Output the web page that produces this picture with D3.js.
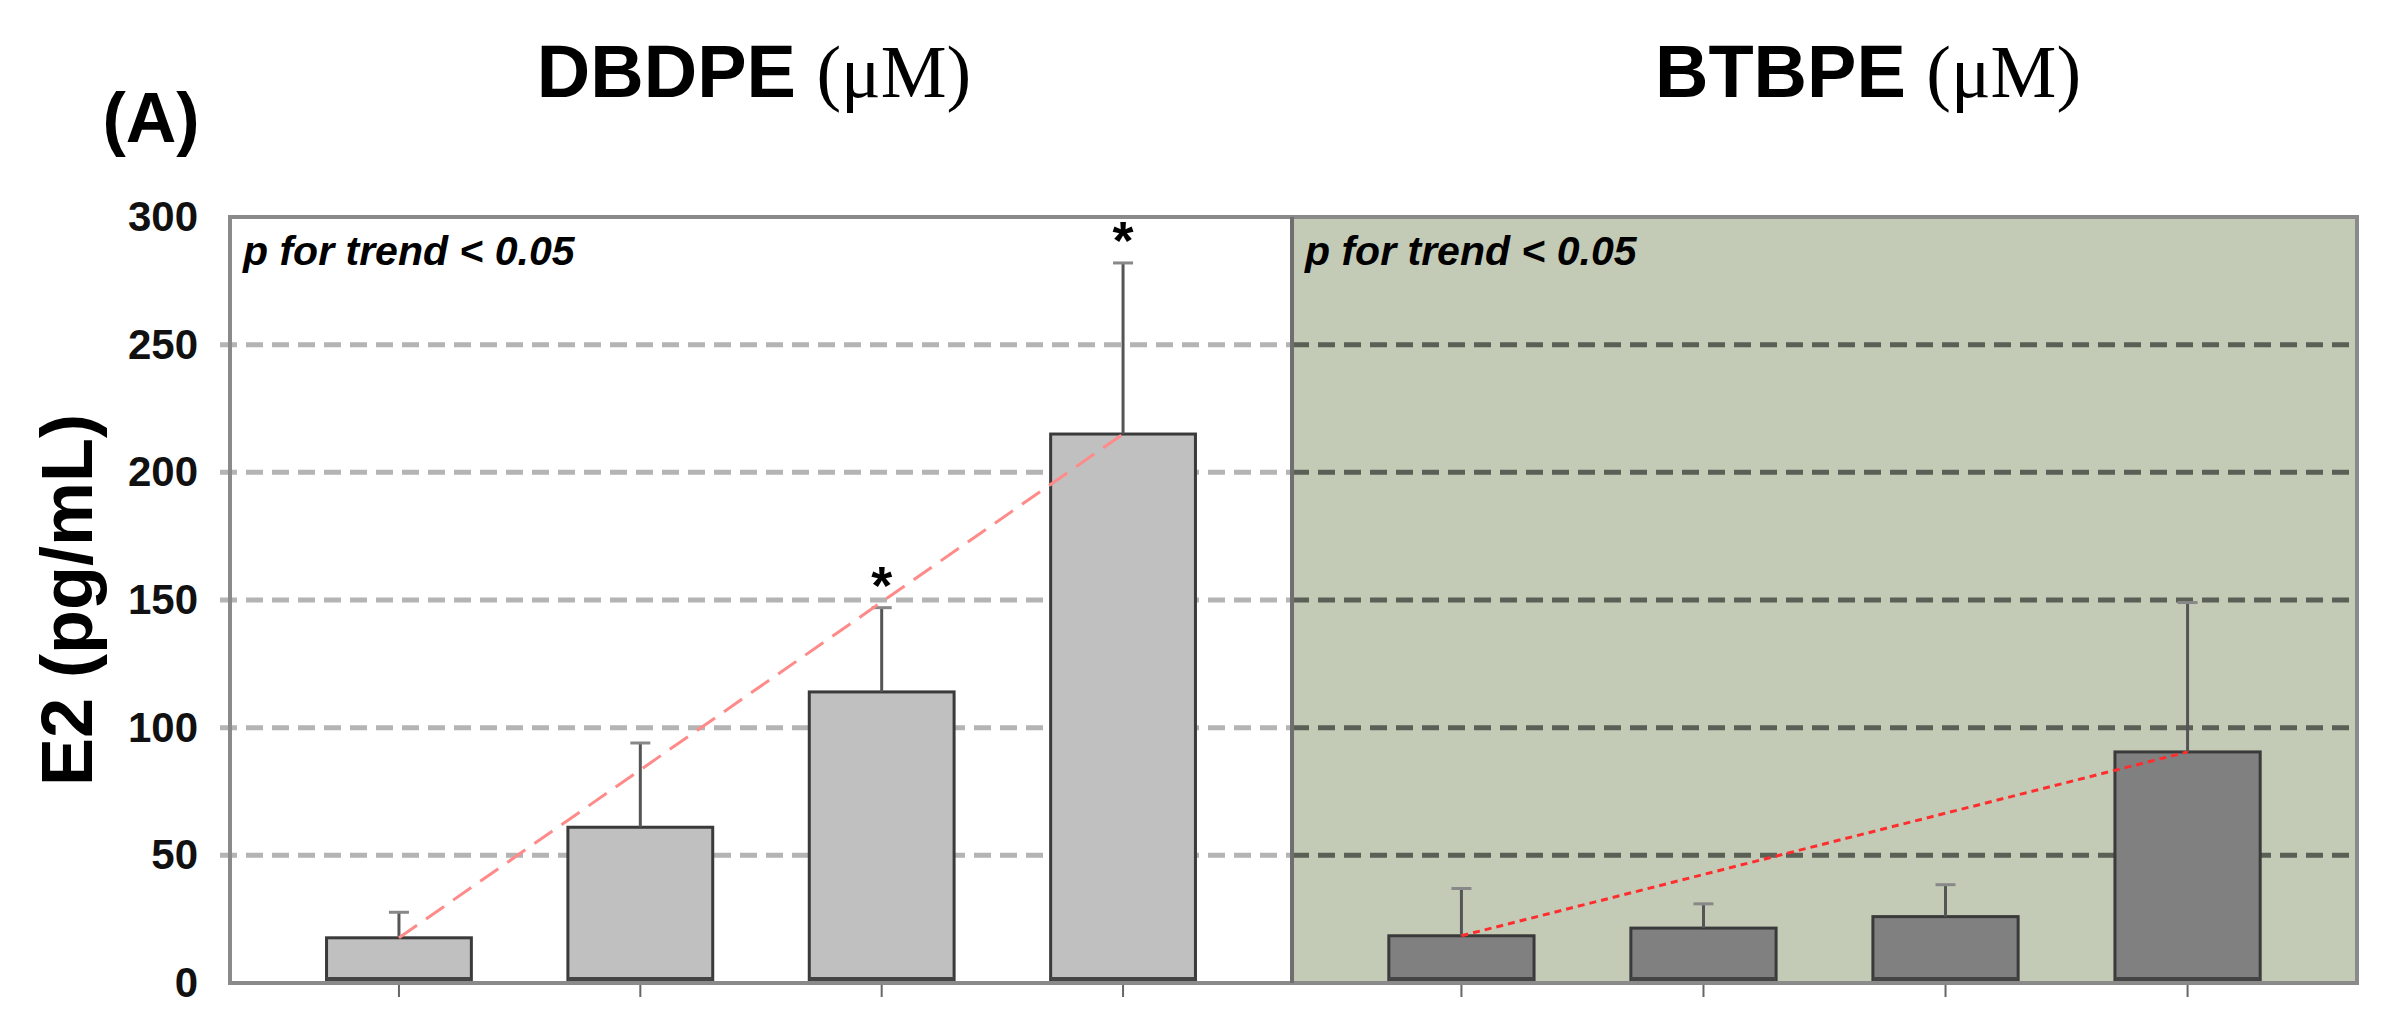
<!DOCTYPE html>
<html>
<head>
<meta charset="utf-8">
<script src="https://cdn.jsdelivr.net/npm/d3@7"></script>
<style>
  body { margin: 0; background: #fff; }
  text { font-family: "Liberation Sans", Arial, sans-serif; }
</style>
</head>
<body>
<svg id="chart"></svg>
<script>
// Constants
const width = 2395;
const height = 1032;
const plot = { left: 230, mid: 1292, right: 2357, top: 217, bottom: 983 };

// Data (E2, pg/mL, mean and SD per dose level)
const doseLevels = ["d1", "d2", "d3", "d4"];
const dbdpeMeans = [17.7, 61, 114, 215];
const dbdpeSD = [10, 33, 33, 67];
const btbpeMeans = [18.5, 21.5, 26, 90.5];
const btbpeSD = [18.5, 9.5, 12.5, 58.5];
const dbdpeStars = ["", "", "*", "*"];
const btbpeStars = ["", "", "", ""];
const yTicks = [0, 50, 100, 150, 200, 250, 300];
const gridTicks = [50, 100, 150, 200, 250];
const panelNames = ["DBDPE", "BTBPE"];
const trendNote = "p for trend < 0.05";

const svg = d3.select("#chart").attr("width", width).attr("height", height);

// y scale shared by both panels
const yScale = d3.scaleLinear().domain([0, 300]).range([plot.bottom, plot.top]);

// panel settings built from the arrays above
const panels = [
    { name: panelNames[0], means: dbdpeMeans, sd: dbdpeSD, stars: dbdpeStars,
      x0: plot.left, x1: plot.mid, bg: "#ffffff", barFill: "#c0c0c0",
      grid: "#b4b4b4", trend: "#ff8a8a", trendDash: "22,11", titleX: 754 },
    { name: panelNames[1], means: btbpeMeans, sd: btbpeSD, stars: btbpeStars,
      x0: plot.mid, x1: plot.right, bg: "#c3cbb7", barFill: "#808080",
      grid: "#5a6055", trend: "#ff2e2e", trendDash: "7,5", titleX: 1868 }
];

panels.forEach(p => {
    const xScale = d3.scaleBand()
        .domain(doseLevels)
        .range([p.x0, p.x1])
        .paddingInner(0.4)
        .paddingOuter(0.4);
    const rows = doseLevels.map((d, i) => ({ key: d, mean: p.means[i], sd: p.sd[i], star: p.stars[i] }));
    const g = svg.append("g");

    // background
    g.append("rect")
        .attr("x", p.x0).attr("y", plot.top)
        .attr("width", p.x1 - p.x0).attr("height", plot.bottom - plot.top)
        .attr("fill", p.bg);

    // dashed gridlines (they also reach out as ticks on the left)
    g.selectAll(".grid").data(gridTicks).enter().append("line")
        .attr("x1", p.x0 === plot.left ? plot.left - 10 : p.x0)
        .attr("x2", p.x1)
        .attr("y1", d => yScale(d)).attr("y2", d => yScale(d))
        .attr("stroke", p.grid).attr("stroke-width", 5)
        .attr("stroke-dasharray", "17,9");

    // bars
    g.selectAll(".bar").data(rows).enter().append("rect")
        .attr("x", d => xScale(d.key))
        .attr("y", d => yScale(d.mean))
        .attr("width", xScale.bandwidth())
        .attr("height", d => yScale(0) - yScale(d.mean))
        .attr("fill", p.barFill)
        .attr("stroke", "#3a3a3a").attr("stroke-width", 3);

    // dark base strip of each bar
    g.selectAll(".base").data(rows).enter().append("rect")
        .attr("x", d => xScale(d.key))
        .attr("y", yScale(0) - 6)
        .attr("width", xScale.bandwidth())
        .attr("height", 6)
        .attr("fill", "#444");

    // error bars (upper half only)
    const cx = d => xScale(d.key) + xScale.bandwidth() / 2;
    g.selectAll(".err").data(rows).enter().append("line")
        .attr("x1", cx).attr("x2", cx)
        .attr("y1", d => yScale(d.mean)).attr("y2", d => yScale(d.mean + d.sd))
        .attr("stroke", "#555").attr("stroke-width", 3);
    g.selectAll(".cap").data(rows).enter().append("line")
        .attr("x1", d => cx(d) - 10).attr("x2", d => cx(d) + 10)
        .attr("y1", d => yScale(d.mean + d.sd)).attr("y2", d => yScale(d.mean + d.sd))
        .attr("stroke", "#888").attr("stroke-width", 3);

    // trend line from first to last bar top
    const first = rows[0], last = rows[rows.length - 1];
    g.append("line")
        .attr("x1", cx(first)).attr("y1", yScale(first.mean))
        .attr("x2", cx(last)).attr("y2", yScale(last.mean))
        .attr("stroke", p.trend).attr("stroke-width", 3)
        .attr("stroke-dasharray", p.trendDash);

    // significance stars
    g.selectAll(".star").data(rows.filter(d => d.star)).enter().append("text")
        .attr("x", cx)
        .attr("y", d => yScale(d.mean + d.sd) - 4)
        .attr("text-anchor", "middle")
        .attr("font-size", 54).attr("font-weight", "bold")
        .text(d => d.star);

    // x ticks (no labels)
    g.append("g")
        .attr("transform", `translate(0,${plot.bottom})`)
        .call(d3.axisBottom(xScale).tickSize(14).tickFormat(""))
        .call(a => a.select(".domain").remove())
        .call(a => a.selectAll("line").attr("stroke", "#666").attr("stroke-width", 2));

    // p for trend note
    g.append("text")
        .attr("x", p.x0 + 13).attr("y", plot.top + 48)
        .attr("font-size", 41).attr("font-weight", "bold").attr("font-style", "italic")
        .text(trendNote);

    // panel title
    const t = svg.append("text")
        .attr("x", p.titleX).attr("y", 97)
        .attr("text-anchor", "middle")
        .attr("font-size", 74).attr("font-weight", "bold");
    t.append("tspan").text(p.name + " ");
    t.append("tspan").attr("font-family", "'Liberation Serif', 'Times New Roman', serif")
        .attr("font-weight", "normal").text("(\u03bcM)");
});

// frame of the plot area and divider
svg.append("rect")
    .attr("x", plot.left).attr("y", plot.top)
    .attr("width", plot.right - plot.left).attr("height", plot.bottom - plot.top)
    .attr("fill", "none").attr("stroke", "#8a8a8a").attr("stroke-width", 4);
svg.append("line")
    .attr("x1", plot.mid).attr("x2", plot.mid)
    .attr("y1", plot.top).attr("y2", plot.bottom)
    .attr("stroke", "#6f6f6f").attr("stroke-width", 4);

// y axis labels
svg.append("g")
    .attr("transform", `translate(${plot.left - 30},0)`)
    .call(d3.axisLeft(yScale).tickValues(yTicks).tickSize(0).tickPadding(2))
    .call(a => a.select(".domain").remove())
    .call(a => a.selectAll("text")
        .attr("font-size", 42).attr("font-weight", "bold").attr("fill", "#111")
        .style("font-family", "'Liberation Sans', Arial, sans-serif"));

// y axis title
svg.append("text")
    .attr("transform", `translate(92,600) rotate(-90)`)
    .attr("text-anchor", "middle")
    .attr("font-size", 72).attr("font-weight", "bold")
    .text("E2 (pg/mL)");

// panel letter
svg.append("text")
    .attr("x", 151).attr("y", 142)
    .attr("text-anchor", "middle")
    .attr("font-size", 70).attr("font-weight", "bold")
    .text("(A)");
</script>
</body>
</html>
